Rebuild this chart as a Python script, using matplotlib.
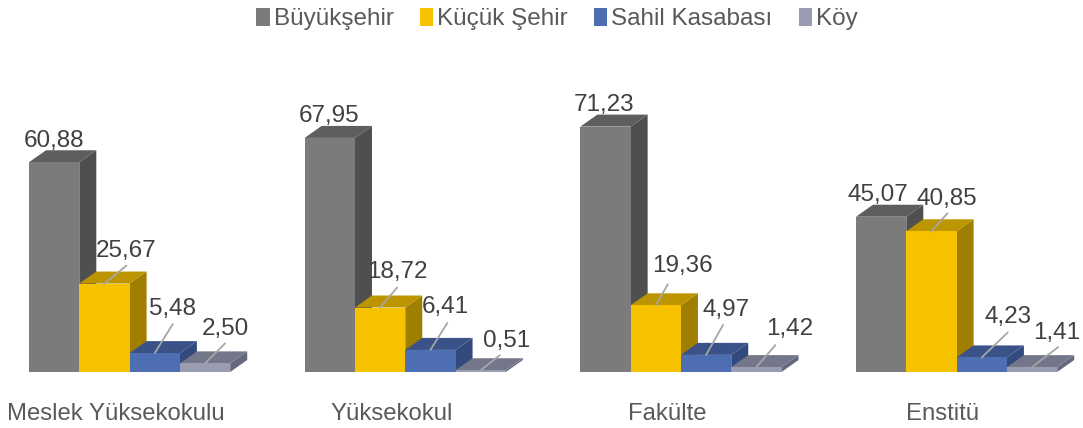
import matplotlib
matplotlib.use('Agg')
import matplotlib.pyplot as plt
from matplotlib.patches import Patch, Polygon

plt.rcParams['font.family'] = ['Liberation Sans', 'DejaVu Sans']

categories = ['Meslek Yüksekokulu', 'Yüksekokul', 'Fakülte', 'Enstitü']
series = ['Büyükşehir', 'Küçük Şehir', 'Sahil Kasabası', 'Köy']
buyuksehir = [60.88, 67.95, 71.23, 45.07]
kucuk_sehir = [25.67, 18.72, 19.36, 40.85]
sahil = [5.48, 6.41, 4.97, 4.23]
koy = [2.50, 0.51, 1.42, 1.41]
values = [buyuksehir, kucuk_sehir, sahil, koy]

front = ['#7b7b7b', '#f6c200', '#4e6eb4', '#9a9cb2']
top = ['#5e5e5e', '#bd9500', '#3a5288', '#74768a']
side = ['#4f4f4f', '#a07e00', '#324a7c', '#66697c']

W, H = 1083, 428
group_px = 275.67
left_px = 29
base_px = 372
px_per_unit = 3.445
bar_w = 50.3/group_px
depth_x = 17/group_px
depth_y = 12/px_per_unit

# label centre and leader start, pixels relative to the top centre of the front face
label_off = [
    [(0, 21), (21.5, 33), (18, 44), (20, 34)],
    [(-1, 22), (17, 36), (15, 43), (26, 29)],
    [(-1, 22), (27, 39), (20, 45), (33, 38)],
    [(-3, 22), (15.5, 32), (26, 40), (25, 34)],
]
leader_off = [
    [None, (22, 18), (18, 29), (20, 20)],
    [None, (17, 20), (17, 27), (19, 15)],
    [None, (12, 21), (17, 30), (19, 22)],
    [None, (16, 18), (26, 25), (26, 20)],
]

fig = plt.figure(figsize=(W/100, H/100), dpi=100)
ax = fig.add_axes([0, (H - base_px)/H, 1, base_px/H])
ax.set_xlim(-left_px/group_px, (W - left_px)/group_px)
ax.set_ylim(0, base_px/px_per_unit)

for j, vals in enumerate(values):
    for i, v in enumerate(vals):
        x0 = i + j*bar_w
        x1 = x0 + bar_w
        ax.add_patch(Polygon([(x1, 0), (x1 + depth_x, depth_y), (x1 + depth_x, v + depth_y), (x1, v)],
                             fc=side[j], ec='none', zorder=2 + j*0.1))
        ax.add_patch(Polygon([(x0, v), (x0 + depth_x, v + depth_y), (x1 + depth_x, v + depth_y), (x1, v)],
                             fc=top[j], ec='none', zorder=2 + j*0.1))
        ax.bar(x0, v, width=bar_w, align='edge', color=front[j], zorder=2 + j*0.1 + 0.01)

        cx = x0 + bar_w/2
        ax.annotate(f'{v:.2f}'.replace('.', ','), xy=(cx, v), xytext=label_off[i][j],
                    textcoords='offset pixels', ha='center', va='center',
                    fontsize=17.5, color='#404040', zorder=6)
        if leader_off[i][j] is not None:
            ax.annotate('', xy=(cx, v), xytext=leader_off[i][j], textcoords='offset pixels',
                        arrowprops=dict(arrowstyle='-', color='#a6a6a6', lw=1.3,
                                        shrinkA=0, shrinkB=0), zorder=5)

ax.set_xticks([i + 87/group_px for i in range(len(categories))])
ax.set_xticklabels(categories, fontsize=17.2, color='#595959')
ax.tick_params(axis='x', length=0, pad=22.5)
ax.set_yticks([])
for s in ax.spines.values():
    s.set_visible(False)

handles = [Patch(fc=c, ec='none') for c in front]
fig.legend(handles, series, loc='upper center', bbox_to_anchor=(0.5143, 1.033), ncol=4, frameon=False,
           fontsize=17.5, labelcolor='#595959', handlelength=0.55, handleheight=0.75,
           handletextpad=0.16, columnspacing=1.08)

fig.savefig('out.png', dpi=100)
